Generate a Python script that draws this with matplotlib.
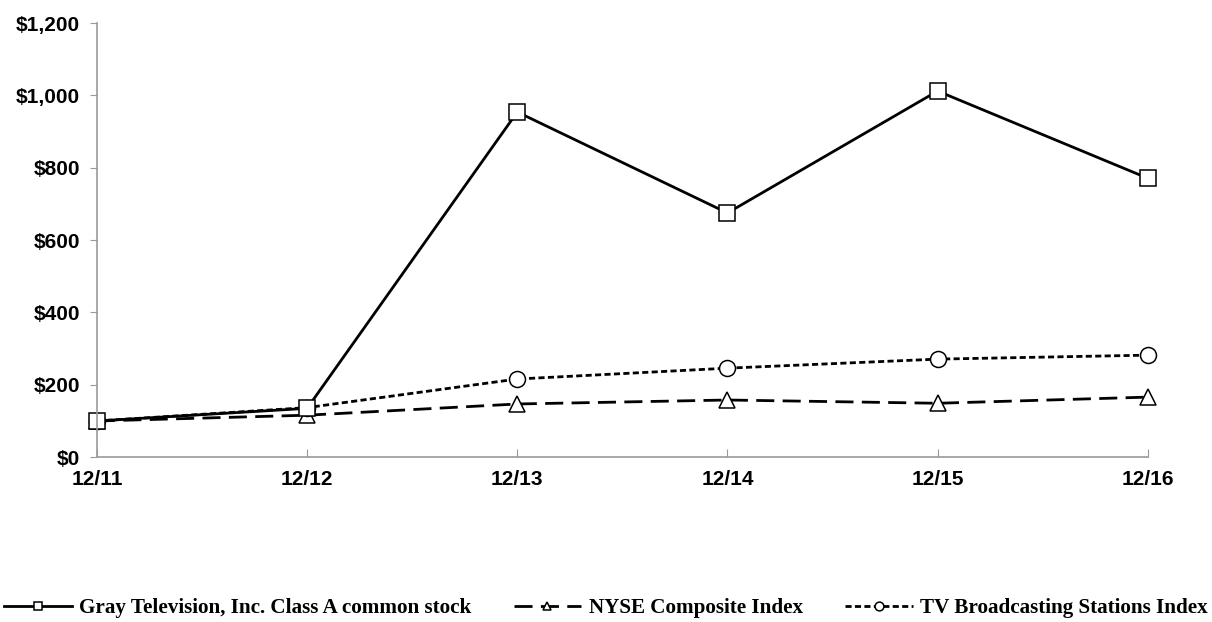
import numpy as np
import matplotlib.pyplot as plt
from matplotlib.ticker import FuncFormatter

years = ['12/11', '12/12', '12/13', '12/14', '12/15', '12/16']
gray = [100, 135, 954, 675, 1012, 771]
nyse = [100, 116, 147, 158, 149, 166]
tv = [100, 137, 216, 246, 271, 282]

fig = plt.figure(figsize=(12.12, 6.22), dpi=100)
ax = fig.add_axes([0.080, 0.265, 0.867, 0.698])

x = np.arange(len(years))
mk = dict(markersize=11.5, markerfacecolor='white', markeredgecolor='black',
          markeredgewidth=1.1, color='black')
ax.plot(x, nyse, linestyle=(0, (6.5, 3)), lw=2, marker='^',
        label='NYSE Composite Index', **mk)
ax.plot(x, tv, linestyle=(0, (2.2, 1.2)), lw=2, marker='o',
        label='TV Broadcasting Stations Index', **mk)
ax.plot(x, gray, linestyle='-', lw=2, marker='s',
        label='Gray Television, Inc. Class A common stock', **mk)

ax.set_xlim(0, 5)
ax.set_ylim(0, 1200)
ax.set_yticks(np.arange(0, 1201, 200))
ax.yaxis.set_major_formatter(FuncFormatter(lambda v, p: '${:,.0f}'.format(v)))
ax.set_xticks(x, years)
for lab in ax.get_xticklabels() + ax.get_yticklabels():
    lab.set_fontfamily('Liberation Sans')
    lab.set_fontweight('bold')
    lab.set_fontsize(15)

ax.spines["right"].set_visible(False)
ax.spines["top"].set_visible(False)
for s in ['left', 'bottom']:
    ax.spines[s].set_color('#999999')
    ax.spines[s].set_linewidth(1.2)
ax.tick_params(axis='y', direction='out', length=5, color='#999999', pad=7)
ax.tick_params(axis='x', direction='in', length=6, color='#999999', pad=9)
for l in ax.lines:
    l.set_clip_on(False)

h, lbl = ax.get_legend_handles_labels()
order = [2, 0, 1]
leg = fig.legend([h[i] for i in order], [lbl[i] for i in order],
                 loc='center', bbox_to_anchor=(0.5, 0.0225), ncol=3, frameon=False,
                 prop={'family': 'Liberation Serif', 'weight': 'bold', 'size': 15.2},
                 handlelength=3.2, handletextpad=0.35, columnspacing=2.0,
                 markerscale=0.55, borderpad=0, borderaxespad=0)

fig.savefig('out.png', dpi=100)
